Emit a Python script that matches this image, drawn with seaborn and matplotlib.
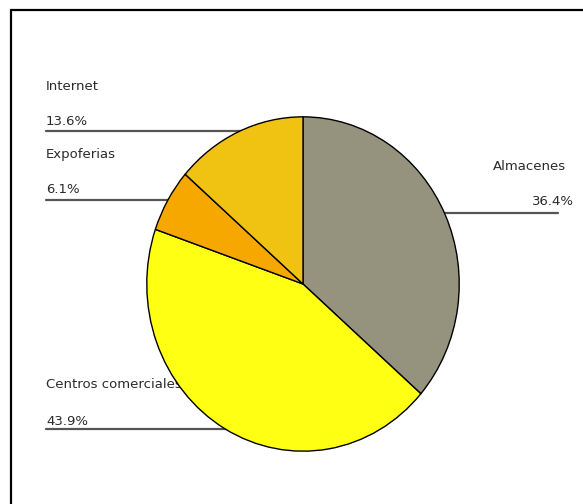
import matplotlib
matplotlib.use("Agg")
import matplotlib.pyplot as plt
import seaborn as sns

# Sales channel shares (%)
categories = ["Almacenes", "Centros comerciales", "Expoferias", "Internet"]
shares = [36.4, 43.9, 6.1, 13.6]
pct_labels = [f"{v:.1f}%" for v in shares]
colors = ["#95937d", "#ffff14", "#f7a800", "#f0c313"]

sns.set_theme(style="white")
plt.rcParams["font.family"] = ["DejaVu Sans"]

W, H = 583, 504
fig = plt.figure(figsize=(W / 100, H / 100), dpi=100, edgecolor="white")

# background layer in pixel coordinates for frame, labels and leader lines
bg = fig.add_axes([0, 0, 1, 1])
bg.set_xlim(0, W)
bg.set_ylim(H, 0)
bg.axis("off")

bg.plot([11, 11], [H, 10], color="black", lw=1.6, solid_capstyle="butt")
bg.plot([10.4, W], [10, 10], color="black", lw=1.6, solid_capstyle="butt")

# pie geometry (pixels): centre and radii
cx, cy, rx, ry = 303, 284, 157, 168

# label layout: x, name baseline, pct baseline, leader y, alignment, leader outer x
layout = {
    "Almacenes": (493, 170, 205, 213, "right", 558),
    "Centros comerciales": (46, 388, 425, 429, "left", 46),
    "Expoferias": (46, 158, 193, 200, "left", 46),
    "Internet": (46, 90, 125, 131, "left", 46),
}

txt_kw = dict(fontsize=9.5, color="#2a2a2a", va="baseline")
for name, pct in zip(categories, pct_labels):
    x, yn, yp, yl, side, lx = layout[name]
    bg.text(x, yn, name, ha="left", **txt_kw)
    if side == "right":
        bg.text(574, yp, pct, ha="right", **txt_kw)
    else:
        bg.text(x, yp, pct, ha="left", **txt_kw)
    bg.plot([lx, cx], [yl, yl], color="#555555", lw=1.6, zorder=1)

pie_ax = fig.add_axes([(cx - rx) / W, (H - cy - ry) / H, 2 * rx / W, 2 * ry / H])
pie_ax.patch.set_alpha(0)
pie_ax.pie(
    shares,
    colors=colors,
    startangle=90,
    counterclock=False,
    radius=1,
    wedgeprops=dict(edgecolor="black", linewidth=1.0),
)
pie_ax.set_aspect("auto")
pie_ax.set_xlim(-1.005, 1.005)
pie_ax.set_ylim(-1.005, 1.005)
pie_ax.axis("off")

fig.savefig("out.png", dpi=100, facecolor="white", edgecolor="white")
